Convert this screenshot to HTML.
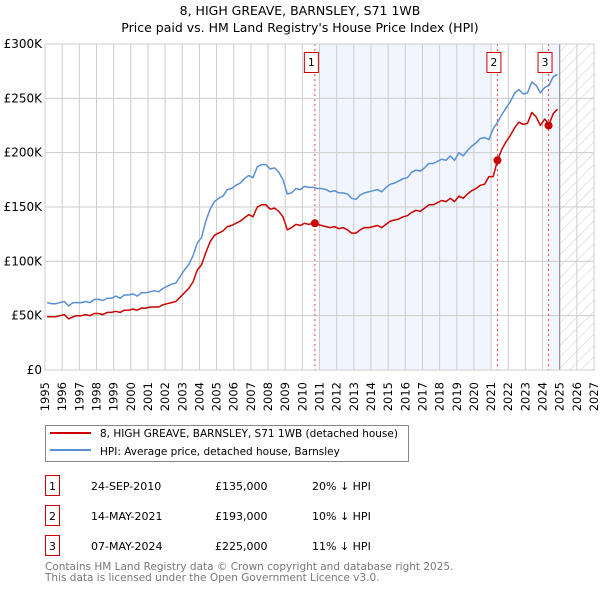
<!DOCTYPE html>
<html><head><meta charset="utf-8"><style>
body{margin:0;background:#fff;font-family:"DejaVu Sans","Liberation Sans",sans-serif;}
svg text{font-family:"DejaVu Sans","Liberation Sans",sans-serif;}
</style></head><body>
<svg id="chart" width="600" height="590" viewBox="0 0 600 590">
<defs><pattern id="hatch" width="8" height="8" patternUnits="userSpaceOnUse" patternTransform="rotate(45)"><line x1="0" y1="0" x2="0" y2="8" stroke="#ccc" stroke-width="1"/></pattern></defs>
<text x="300" y="15" text-anchor="middle" font-size="12.5">8, HIGH GREAVE, BARNSLEY, S71 1WB</text>
<text x="300" y="32" text-anchor="middle" font-size="12.5">Price paid vs. HM Land Registry's House Price Index (HPI)</text>
<g id="plot"></g>
<g>
<rect x="45.5" y="425.5" width="363" height="36" fill="#fff" stroke="#888"/>
<line x1="50" y1="433" x2="91" y2="433" stroke="#cc0000" stroke-width="2"/>
<text x="100" y="437" font-size="10.5">8, HIGH GREAVE, BARNSLEY, S71 1WB (detached house)</text>
<line x1="50" y1="450" x2="91" y2="450" stroke="#5b8fd4" stroke-width="2"/>
<text x="100" y="455" font-size="10.5">HPI: Average price, detached house, Barnsley</text>
</g>
<g font-size="11">
<rect x="45.5" y="475.5" width="14" height="20" fill="#fff" stroke="#cc0000"/><text x="52.5" y="490" text-anchor="middle">1</text>
<text x="91" y="490">24-SEP-2010</text><text x="215" y="490">£135,000</text><text x="312" y="490">20% ↓ HPI</text>
<rect x="45.5" y="505.5" width="14" height="20" fill="#fff" stroke="#cc0000"/><text x="52.5" y="520" text-anchor="middle">2</text>
<text x="91" y="520">14-MAY-2021</text><text x="215" y="520">£193,000</text><text x="312" y="520">10% ↓ HPI</text>
<rect x="45.5" y="535.5" width="14" height="20" fill="#fff" stroke="#cc0000"/><text x="52.5" y="550" text-anchor="middle">3</text>
<text x="91" y="550">07-MAY-2024</text><text x="215" y="550">£225,000</text><text x="312" y="550">11% ↓ HPI</text>
</g>
<text x="45" y="570" font-size="10.5" fill="#777">Contains HM Land Registry data © Crown copyright and database right 2025.</text>
<text x="45" y="581" font-size="10.5" fill="#777">This data is licensed under the Open Government Licence v3.0.</text>
</svg>
<script>
const years=[1995,1996,1997,1998,1999,2000,2001,2002,2003,2004,2005,2006,2007,2008,2009,2010,2011,2012,2013,2014,2015,2016,2017,2018,2019,2020,2021,2022,2023,2024,2025,2026,2027];
const yTicks=[0,50,100,150,200,250,300];
const yTickLabels=["£0","£50K","£100K","£150K","£200K","£250K","£300K"];
const hpiQuarterly=[62,61,61,62,63,59,62,62,62,63,62,65,65,64,66,66,68,66,69,69,70,68,71,71,72,73,72,75,77,79,80,86,92,97,105,117,122,137,148,155,158,160,166,167,170,172,176,179,177,187,189,189,185,186,182,175,162,163,167,166,169,168,168,167,167,166,164,165,163,163,162,158,157,161,163,164,165,166,164,168,171,172,174,176,177,182,184,183,186,190,190,192,194,193,197,193,200,197,202,206,209,213,214,212,222,228,235,241,247,255,258,254,255,265,262,255,260,262,270,272];
const priceQuarterly=[49,49,49,50,51,47,49,50,50,51,50,52,52,51,53,53,54,53,55,55,56,55,57,57,58,58,58,60,61,62,63,67,71,75,81,92,97,108,118,124,126,128,132,133,135,137,140,143,141,150,152,152,148,149,146,141,129,131,134,133,135,134,135,134,133,132,131,132,130,131,129,126,126,129,131,131,132,133,131,134,137,138,139,141,142,145,147,146,149,152,152,154,156,155,158,155,160,158,162,165,167,170,171,178,178,193,203,210,216,223,228,226,227,237,233,225,231,226,236,240];
const saleDates=[2010.73,2021.37,2024.35];
const salePrices=[135,193,225];
const saleLabels=["1","2","3"];

const X0=45,X1=594,Y0=370,Y1=44;
const xs=y=>X0+(y-1995)/(2027-1995)*(X1-X0);
const ys=v=>Y0-v/300*(Y0-Y1);
const NS="http://www.w3.org/2000/svg";
const g=document.getElementById('plot');
function mk(t,a){const e=document.createElementNS(NS,t);for(const k in a)e.setAttribute(k,a[k]);g.appendChild(e);return e;}
const dataEnd=2025.0;
let r=mk('rect',{x:xs(2011),y:Y1,width:xs(2021.05)-xs(2011),height:Y0-Y1,fill:'#eef3fc',opacity:0.8});

r=mk('rect',{x:xs(2024.35),y:Y1,width:xs(dataEnd)-xs(2024.35),height:Y0-Y1,fill:'#eef3fc',opacity:0.8});

r=mk('rect',{x:xs(dataEnd),y:Y1,width:X1-xs(dataEnd),height:Y0-Y1,fill:'url(#hatch)'});

years.forEach(y=>{const l=mk('line',{x1:xs(y),x2:xs(y),y1:Y1,y2:Y0,stroke:'#ccc','stroke-width':1});

const t=mk('text',{x:0,y:0,'font-size':11.5,'text-anchor':'end',transform:`translate(${xs(y)+4},${Y0+12}) rotate(-90)`});t.textContent=y;
});
yTicks.forEach((v,i)=>{const l=mk('line',{x1:X0,x2:X1,y1:ys(v),y2:ys(v),stroke:'#ccc','stroke-width':1});

const t=mk('text',{x:X0-3,y:ys(v)+4,'font-size':12,'text-anchor':'end'});t.textContent=yTickLabels[i];
});
let ln=mk('line',{x1:xs(dataEnd),x2:xs(dataEnd),y1:Y1,y2:Y0,stroke:'#888','stroke-width':1});

function path(arr,col,name){const d=arr.map((v,i)=>(i?'L':'M')+xs(1995+i/4+0.125).toFixed(1)+','+ys(v).toFixed(1)).join('');
const p=mk('path',{d:d,fill:'none',stroke:col,'stroke-width':1.5,'stroke-linejoin':'round'});
}
path(hpiQuarterly,'#5b8fd4','hpi-line');
path(priceQuarterly,'#cc0000','price-line');
saleDates.forEach((d,i)=>{const l=mk('line',{x1:xs(d),x2:xs(d),y1:Y1,y2:Y0,stroke:'#ee4444','stroke-width':1,'stroke-dasharray':'2,3'});

const c=mk('circle',{cx:xs(d),cy:ys(salePrices[i]),r:4,fill:'#cc0000'});

const b=mk('rect',{x:xs(d)-10.5,y:52.5,width:14,height:20,fill:'#fff',stroke:'#cc0000'});

const t=mk('text',{x:xs(d)-3.5,y:66,'font-size':11,'text-anchor':'middle'});t.textContent=saleLabels[i];
});
const fr=mk('rect',{x:X0,y:Y1,width:X1-X0,height:Y0-Y1,fill:'none',stroke:'#ccc'});

</script>
</body></html>
